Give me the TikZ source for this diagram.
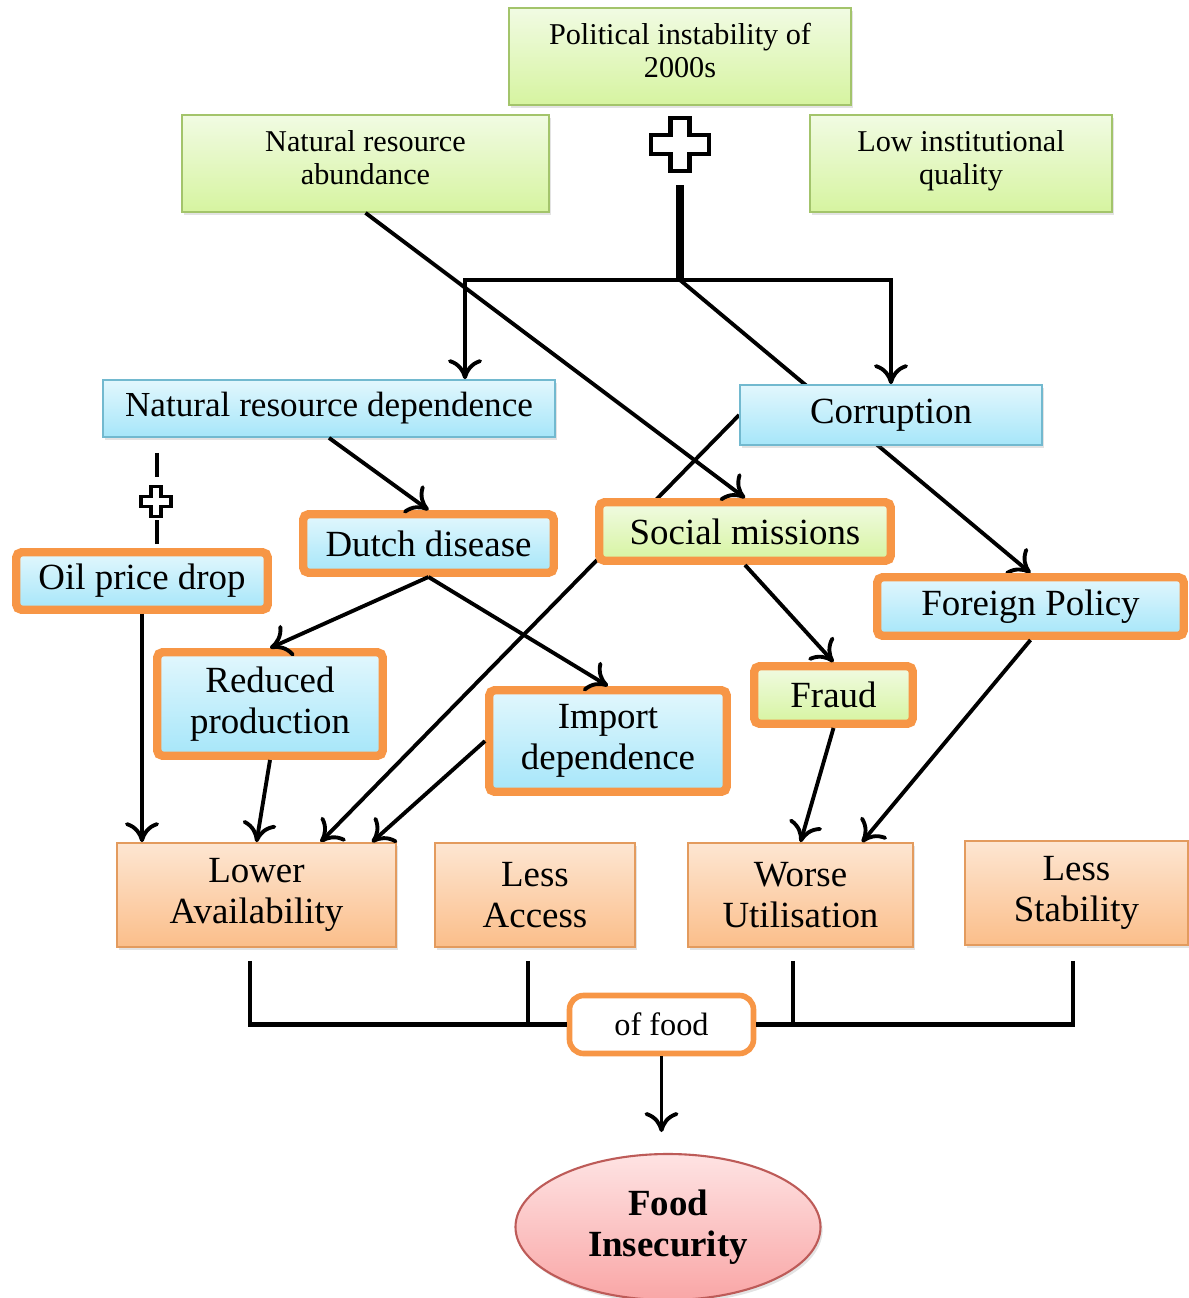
\documentclass[tikz,border=0pt]{standalone}
\usepackage{fontspec}
\setmainfont{Liberation Serif}
\usetikzlibrary{arrows.meta,shapes.geometric,shadows}

\definecolor{greentop}{HTML}{F1FBE3}
\definecolor{greenbot}{HTML}{D6F4A0}
\definecolor{greenline}{HTML}{A3C46B}
\definecolor{bluetop}{HTML}{E2F7FD}
\definecolor{bluebot}{HTML}{A6E6F9}
\definecolor{blueline}{HTML}{72B9CF}
\definecolor{dimtop}{HTML}{FDE6D2}
\definecolor{dimbot}{HTML}{FBBE8A}
\definecolor{dimline}{HTML}{E39B5E}
\definecolor{hotline}{HTML}{F79646}
\definecolor{pinktop}{HTML}{FEE3E3}
\definecolor{pinkbot}{HTML}{F9A6A6}
\definecolor{pinkline}{HTML}{BD5B58}

\pgfdeclarelayer{background}
\pgfsetlayers{background,main}

\begin{document}
\begin{tikzpicture}[>={To[length=2mm,width=3.4mm]},
    box/.style={line width=0.5pt, align=center, inner sep=0pt,
      drop shadow={opacity=0.22, shadow xshift=0.6pt, shadow yshift=-0.9pt}},
    greenbox/.style={box, draw=greenline, top color=greentop, bottom color=greenbot},
    bluebox/.style={box, draw=blueline, top color=bluetop, bottom color=bluebot},
    dimbox/.style={box, draw=dimline, top color=dimtop, bottom color=dimbot},
    hot/.style={draw=hotline, line width=2.4pt, rounded corners=1.5pt},
    bigtext/.style={font=\fontsize{10.5}{11.7}\selectfont},
    smalltext/.style={font=\fontsize{8.6}{9.5}\selectfont, text depth=0.12cm},
    link/.style={->, line width=1.1pt},
    bar/.style={line width=1.3pt}]

    \useasboundingbox (0,0) rectangle (11.88,-12.98);

    % 1. top row: the three starting conditions
    \node[greenbox, smalltext, minimum width=3.42cm, minimum height=0.97cm] (pol) at (6.80,-0.565) {Political instability of\\2000s};
    \node[greenbox, smalltext, minimum width=3.67cm, minimum height=0.97cm] (nra) at (3.655,-1.635) {Natural resource\\abundance};
    \node[greenbox, smalltext, minimum width=3.02cm, minimum height=0.97cm] (liq) at (9.61,-1.635) {Low institutional\\quality};

    % big plus and the stem below it
    \draw[line width=1.2pt, fill=white] (6.51,-1.35) -- ++(0.195,0) -- ++(0,0.17) -- ++(0.19,0) -- ++(0,-0.17)
        -- ++(0.195,0) -- ++(0,-0.19) -- ++(-0.195,0) -- ++(0,-0.17) -- ++(-0.19,0) -- ++(0,0.17) -- ++(-0.195,0) -- cycle;
    \coordinate (stem) at (6.80,-1.85);
    \coordinate (split) at (6.80,-2.80);

    % 2. second row
    \node[bluebox, font=\fontsize{10}{12}\selectfont, minimum width=4.52cm, minimum height=0.57cm] (nrd) at (3.29,-4.085) {Natural resource dependence};
    \node[bluebox, bigtext, minimum width=3.02cm, minimum height=0.60cm] (cor) at (8.91,-4.15) {Corruption};

    % 3. framed channels
    \node[bluebox, hot, bigtext, minimum width=2.515cm, minimum height=0.575cm] (oil) at (1.42,-5.81) {Oil price drop};
    \node[bluebox, hot, bigtext, minimum width=2.505cm, minimum height=0.585cm] (dut) at (4.285,-5.435) {Dutch disease};
    \node[greenbox, hot, bigtext, minimum width=2.915cm, minimum height=0.585cm] (soc) at (7.45,-5.315) {Social missions};
    \node[bluebox, hot, bigtext, minimum width=3.065cm, minimum height=0.585cm] (fp) at (10.305,-6.065) {Foreign Policy};
    \node[bluebox, hot, bigtext, minimum width=2.255cm, minimum height=1.035cm] (red) at (2.70,-7.04) {Reduced\\production};
    \node[bluebox, hot, bigtext, minimum width=2.375cm, minimum height=1.015cm] (imp) at (6.08,-7.41) {Import\\dependence};
    \node[greenbox, hot, bigtext, minimum width=1.585cm, minimum height=0.575cm] (fra) at (8.335,-6.95) {Fraud};

    % small plus between NRD and oil price drop
    \draw[line width=1.1pt] ([xshift=0.15cm,yshift=-0.15cm]nrd.south -| oil.north) -- ++(0,-0.24);
    \draw[line width=1.1pt] ([xshift=0.15cm,yshift=0.04cm]oil.north) -- ++(0,0.24);
    \draw[line width=1.1pt, fill=white] (1.41,-4.965) -- ++(0.10,0) -- ++(0,0.10) -- ++(0.10,0) -- ++(0,-0.10)
        -- ++(0.10,0) -- ++(0,-0.10) -- ++(-0.10,0) -- ++(0,-0.10) -- ++(-0.10,0) -- ++(0,0.10) -- ++(-0.10,0) -- cycle;

    % 4. the four dimensions
    \node[dimbox, bigtext, minimum width=2.79cm, minimum height=1.04cm] (la) at (2.565,-8.95) {Lower\\Availability};
    \node[dimbox, bigtext, minimum width=2.00cm, minimum height=1.04cm] (lac) at (5.35,-8.95) {Less\\Access};
    \node[dimbox, bigtext, minimum width=2.25cm, minimum height=1.04cm] (wu) at (8.005,-8.95) {Worse\\Utilisation};
    \node[dimbox, bigtext, minimum width=2.23cm, minimum height=1.04cm] (ls) at (10.765,-8.93) {Less\\Stability};

    % 5. outcome
    \node[draw=hotline, line width=1.6pt, rounded corners=4pt, fill=white, inner sep=0pt,
        font=\fontsize{9.2}{11}\selectfont, minimum width=1.84cm, minimum height=0.58cm] (food) at (6.615,-10.245) {of food};
    \node[ellipse, draw=pinkline, line width=0.6pt, top color=pinktop, bottom color=pinkbot, align=center, inner sep=0pt,
        font=\bfseries\fontsize{10.5}{11.7}\selectfont, minimum width=3.05cm, minimum height=1.46cm,
        drop shadow={opacity=0.22, shadow xshift=0.6pt, shadow yshift=-0.9pt}] (ins) at (6.68,-12.27) {Food\\Insecurity};
    \coordinate (tip) at (6.615,-11.32);

    % 6. arrows
    \draw[line width=2.3pt] (stem) -- (split);
    \draw[link] (split) -| ([xshift=1.36cm]nrd.north);
    \draw[link] (split) -| (cor.north);
    \draw[link] (nra.south) -- (soc.north);
    \draw[link] (nrd.south) -- (dut.north);
    \draw[link] (dut.south) -- (red.north);
    \draw[link] (dut.south) -- (imp.north);
    \draw[link] (soc.south) -- (fra.north);
    \draw[link] (oil.south) -- (oil.south |- la.north);
    \draw[link] (red.south) -- (la.north);
    \draw[link] (imp.west) -- ([xshift=1.155cm]la.north);
    \draw[link] (fra.south) -- (wu.north);
    \draw[link] (fp.south) -- ([xshift=0.615cm]wu.north);
    \begin{pgfonlayer}{background}
        \draw[link] (split) -- (fp.north);               % runs behind Corruption
        \draw[link] (cor.west) -- ([xshift=0.64cm]la.north); % runs behind Social missions
    \end{pgfonlayer}

    % 7. bracket into "of food"
    \draw[bar] ([xshift=-0.065cm,yshift=-0.13cm]la.south) |- (food.west);
    \draw[bar] ([xshift=-0.07cm,yshift=-0.13cm]lac.south) |- (food.west);
    \draw[bar] ([xshift=-0.075cm,yshift=-0.13cm]wu.south) |- (food.east);
    \draw[bar] ([xshift=-0.035cm,yshift=-0.15cm]ls.south) |- (food.east);
    \draw[link] (food.south) -- (tip);

\end{tikzpicture}
\end{document}
